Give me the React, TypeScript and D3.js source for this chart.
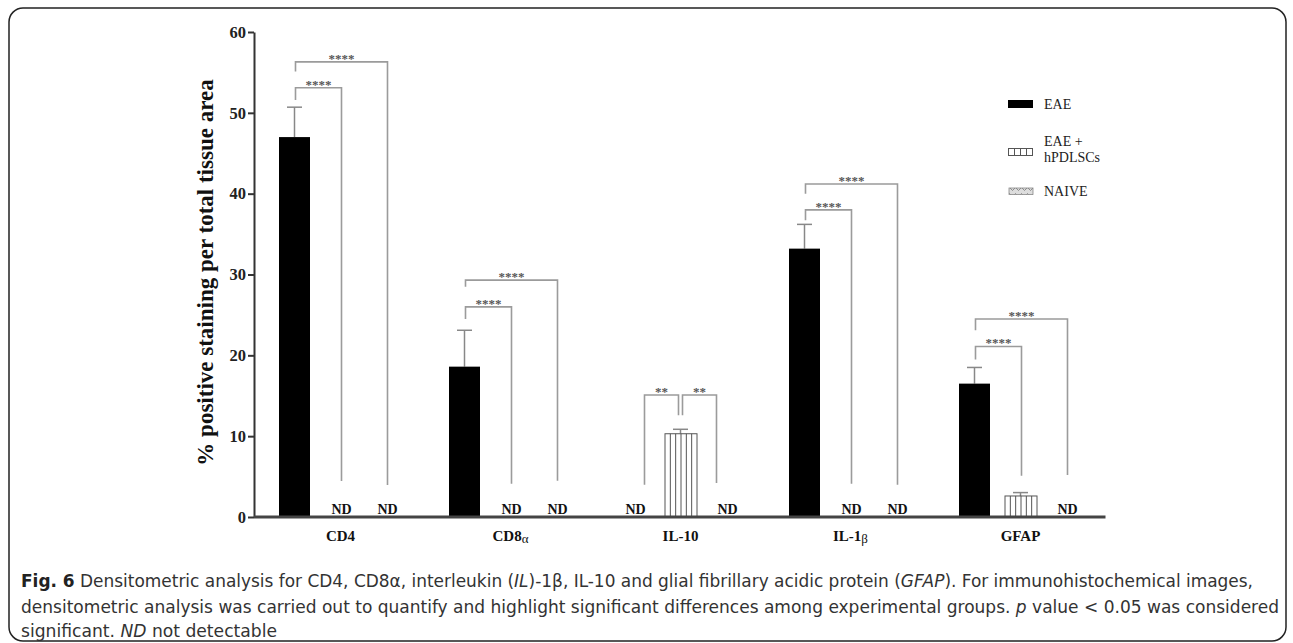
import React from 'react';
import * as d3 from 'd3';

// values (% positive staining); null = ND
const categories = ['CD4', 'CD8α', 'IL-10', 'IL-1β', 'GFAP'];
const series = ['EAE', 'EAE + hPDLSCs', 'NAIVE'];
const eaeMean = [47.0, 18.6, null, 33.2, 16.5];
const eaeSem = [3.7, 4.5, null, 3.0, 2.0];
const hpdlMean = [null, null, 10.3, null, 2.6];
const hpdlSem = [null, null, 0.55, null, 0.42];
const naiveMean = [null, null, null, null, null];
const naiveSem = [null, null, null, null, null];
const yTicks = [0, 10, 20, 30, 40, 50, 60];

// significance brackets: group, from/to series index, height and leg ends in data units
const brackets = [
  { g: 0, from: 0, to: 1, y: 53.1, fromEnd: 51.6, toEnd: 4.45, stars: '****' },
  { g: 0, from: 0, to: 2, y: 56.3, fromEnd: 55.1, toEnd: 3.96, stars: '****' },
  { g: 1, from: 0, to: 1, y: 26.0, fromEnd: 24.5, toEnd: 4.1, stars: '****' },
  { g: 1, from: 0, to: 2, y: 29.3, fromEnd: 28.5, toEnd: 4.5, stars: '****' },
  { g: 2, from: 0, to: 1, y: 15.1, fromEnd: 4.0, toEnd: 12.6, stars: '**' },
  { g: 2, from: 1, to: 2, y: 15.1, fromEnd: 12.6, toEnd: 4.2, stars: '**' },
  { g: 3, from: 0, to: 1, y: 38.0, fromEnd: 36.7, toEnd: 4.1, stars: '****' },
  { g: 3, from: 0, to: 2, y: 41.2, fromEnd: 40.0, toEnd: 4.0, stars: '****' },
  { g: 4, from: 0, to: 1, y: 21.1, fromEnd: 19.5, toEnd: 5.1, stars: '****' },
  { g: 4, from: 0, to: 2, y: 24.5, fromEnd: 23.1, toEnd: 5.2, stars: '****' },
];

const means = [eaeMean, hpdlMean, naiveMean];
const sems = [eaeSem, hpdlSem, naiveSem];

const serif = '"Liberation Serif", "Times New Roman", Times, serif';
const capFont = '"Liberation Sans Narrow", "DejaVu Sans Condensed", "DejaVu Sans", sans-serif';

const W = 1293, H = 643;

export default function App() {
  const axisRef = React.useRef<SVGGElement>(null);

  const y = d3.scaleLinear().domain([0, 60]).range([517, 32]);
  const x0 = d3.scaleBand<string>().domain(categories).range([255.5, 1105.5]);
  const x1 = d3.scaleBand<string>().domain(series).range([16, 154]);
  const barW = 31;
  const cx = (g: number, s: number) => x0(categories[g])! + x1(series[s])! + x1.bandwidth() / 2;

  React.useEffect(() => {
    const g = d3.select(axisRef.current!);
    g.selectAll('*').remove();
    g.call(d3.axisLeft(y).tickValues(yTicks).tickSize(6).tickSizeOuter(0).tickFormat(d3.format('d')) as any);
    g.select('.domain').attr('stroke', '#333').attr('stroke-width', 2);
    g.selectAll('.tick line').attr('stroke', '#333').attr('stroke-width', 2);
    g.selectAll('.tick text')
      .attr('font-family', serif)
      .attr('font-weight', 'bold')
      .attr('font-size', 16.5)
      .attr('fill', '#222')
      .attr('x', -8);
  }, []);

  // two brackets meeting on the same bar -> legs pulled in
  const legX = (b: typeof brackets[0], side: 'from' | 'to') => {
    const s = side === 'from' ? b.from : b.to;
    const other = side === 'from' ? b.to : b.from;
    const pair = brackets.some(o => o !== b && o.g === b.g && (o.from === b.to || o.to === b.from));
    let x = cx(b.g, s) + 1;
    if (pair) {
      const isShared = brackets.some(o => o !== b && o.g === b.g && (o.from === s || o.to === s));
      const dir = other > s ? 1 : -1;
      x = cx(b.g, s) + (isShared ? dir * 2 : dir * 10);
    }
    return x;
  };

  const labelParts = (c: string) => {
    const last = c.slice(-1);
    if (/[α-ω]/.test(last)) return [c.slice(0, -1), last];
    return [c, ''];
  };

  return (
    <svg width={W} height={H} style={{ position: 'absolute', left: 0, top: 0, background: '#fff' }}>
      <rect x={9} y={8} width={1277} height={633} rx={14} fill="none" stroke="#222" strokeWidth={1.5} />

      <defs>
        <pattern id="naive" width={6} height={6} patternUnits="userSpaceOnUse">
          <rect width={6} height={6} fill="#ddd" />
          <path d="M0,3 L1.5,1.5 L3,3 L4.5,4.5 L6,3" fill="none" stroke="#777" strokeWidth={0.8} />
        </pattern>
      </defs>

      {/* y-axis title */}
      <text transform="translate(213,272.5) rotate(-90)" textAnchor="middle"
        fontFamily={serif} fontWeight="bold" fontSize={23} fill="#111">
        % positive staining per total tissue area
      </text>

      <g ref={axisRef} transform="translate(254,0)" />

      {/* brackets */}
      <g opacity={0.99}>
        {brackets.map((b, i) => {
          const xa = legX(b, 'from');
          const xb = legX(b, 'to');
          const yy = y(b.y);
          return (
            <g key={'b' + i}>
              <path d={`M${xa},${y(b.fromEnd)} V${yy} H${xb} V${y(b.toEnd)}`}
                fill="none" stroke="#9a9a9a" strokeWidth={1.6} />
              <text x={(xa + xb) / 2} y={yy + 1} textAnchor="middle"
                fontFamily={serif} fontWeight="bold" fontSize={13} fill="#555">{b.stars}</text>
            </g>
          );
        })}
      </g>

      {/* bars */}
      {categories.map((c, g) => series.map((s, si) => {
        const v = means[si][g];
        const xc = cx(g, si);
        if (v == null) {
          return (
            <text key={c + s} x={xc + 1} y={514} textAnchor="middle"
              fontFamily={serif} fontWeight="bold" fontSize={14} fill="#111">ND</text>
          );
        }
        const e = sems[si][g] ?? 0;
        const x = xc - barW / 2;
        const top = y(v);
        return (
          <g key={c + s}>
            <line x1={xc} x2={xc} y1={top} y2={y(v + e)} stroke="#888" strokeWidth={1.5} />
            <line x1={xc - 7.5} x2={xc + 7.5} y1={y(v + e)} y2={y(v + e)} stroke="#888" strokeWidth={1.5} />
            {si === 0 ? (
              <rect x={x} y={top} width={barW} height={y(0) - top} fill="#000" />
            ) : (
              <g>
                <rect x={x} y={top} width={barW + 1} height={y(0) - top} fill="#fff" stroke="#555" strokeWidth={1} />
                {d3.range(1, 6).map(k => (
                  <line key={k} x1={x + k * (barW + 1) / 6} x2={x + k * (barW + 1) / 6}
                    y1={top} y2={y(0)} stroke="#555" strokeWidth={1} />
                ))}
              </g>
            )}
          </g>
        );
      }))}

      {/* baseline */}
      <line x1={254} x2={x0.range()[1]} y1={y(0)} y2={y(0)} stroke="#444" strokeWidth={3} />

      {/* category labels */}
      {categories.map(c => {
        const [base, greek] = labelParts(c);
        return (
          <text key={c} x={x0(c)! + x0.bandwidth() / 2} y={541} textAnchor="middle"
            fontFamily={serif} fontWeight="bold" fontSize={15} fill="#111">
            {base}
            {greek && <tspan fontWeight="normal" fontSize={13} dy={2}>{greek}</tspan>}
          </text>
        );
      })}

      {/* legend */}
      <g fontFamily={serif} fontSize={14} fill="#222">
        <rect x={1008} y={100} width={25} height={8} fill="#000" />
        <text x={1044} y={109}>{series[0]}</text>

        <rect x={1008.5} y={148.5} width={24} height={7} fill="#fff" stroke="#555" strokeWidth={1} />
        {d3.range(1, 4).map(k => (
          <line key={k} x1={1008.5 + k * 6} x2={1008.5 + k * 6} y1={148.5} y2={155.5} stroke="#555" strokeWidth={1} />
        ))}
        <text x={1044} y={146}>EAE +</text>
        <text x={1044} y={162}>hPDLSCs</text>

        <rect x={1009} y={188} width={24} height={6.5} fill="url(#naive)" stroke="#888" strokeWidth={0.8} />
        <text x={1044} y={196}>{series[2]}</text>
      </g>

      {/* caption */}
      <g fontFamily={capFont} fontSize={17} fill="#333">
        <text x={21} y={587} textLength={1232} lengthAdjust="spacingAndGlyphs">
          <tspan fontWeight="bold" fill="#222">Fig. 6</tspan> Densitometric analysis for CD4, CD8α, interleukin (<tspan fontStyle="italic">IL</tspan>)-1β, IL-10 and glial fibrillary acidic protein (<tspan fontStyle="italic">GFAP</tspan>). For immunohistochemical images,
        </text>
        <text x={21} y={612.5} textLength={1258} lengthAdjust="spacingAndGlyphs">
          densitometric analysis was carried out to quantify and highlight significant differences among experimental groups. <tspan fontStyle="italic">p</tspan> value &lt; 0.05 was considered
        </text>
        <text x={21} y={637} textLength={256} lengthAdjust="spacingAndGlyphs">
          significant. <tspan fontStyle="italic">ND</tspan> not detectable
        </text>
      </g>
    </svg>
  );
}
